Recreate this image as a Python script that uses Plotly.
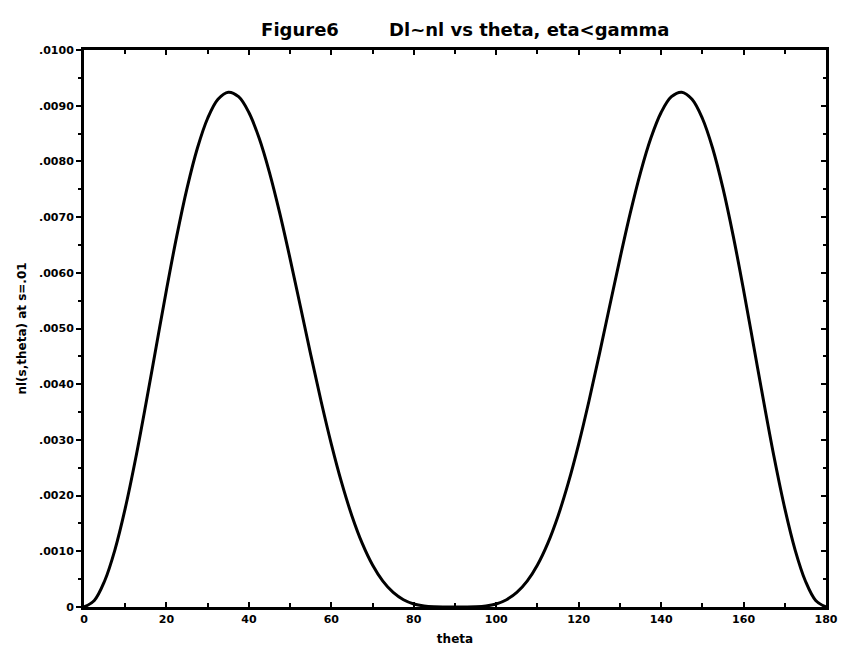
import plotly.graph_objects as go

theta = [0, 2.5, 5, 7.5, 10, 12.5, 15, 17.5, 20, 22.5, 25, 27.5, 30, 32.5, 35, 37.5, 40,
         42.5, 45, 47.5, 50, 52.5, 55, 57.5, 60, 62.5, 65, 67.5, 70, 72.5, 75, 77.5, 80,
         82.5, 85, 87.5, 90, 92.5, 95, 97.5, 100, 102.5, 105, 107.5, 110, 112.5, 115,
         117.5, 120, 122.5, 125, 127.5, 130, 132.5, 135, 137.5, 140, 142.5, 145, 147.5,
         150, 152.5, 155, 157.5, 160, 162.5, 165, 167.5, 170, 172.5, 175, 177.5, 180]
nl = [0.0, 0.000118, 0.000467, 0.001027, 0.001770, 0.002656, 0.003639, 0.004668,
      0.005692, 0.006658, 0.007519, 0.008236, 0.008775, 0.009115, 0.009243, 0.009161,
      0.008878, 0.008415, 0.007800, 0.007066, 0.006251, 0.005394, 0.004532, 0.003699,
      0.002925, 0.002232, 0.001635, 0.001142, 0.000754, 0.000464, 0.000261, 0.000131,
      0.000055, 0.000018, 0.000004, 0.0000002, 0.0,
      0.0000002, 0.000004, 0.000018, 0.000055, 0.000131, 0.000261, 0.000464, 0.000754,
      0.001142, 0.001635, 0.002232, 0.002925, 0.003699, 0.004532, 0.005394, 0.006251,
      0.007066, 0.007800, 0.008415, 0.008878, 0.009161, 0.009243, 0.009115, 0.008775,
      0.008236, 0.007519, 0.006658, 0.005692, 0.004668, 0.003639, 0.002656, 0.001770,
      0.001027, 0.000467, 0.000118, 0.0]

x_ticks = [0, 20, 40, 60, 80, 100, 120, 140, 160, 180]
y_ticks = [0, 0.001, 0.002, 0.003, 0.004, 0.005, 0.006, 0.007, 0.008, 0.009, 0.010]
y_tick_text = ["0", ".0010", ".0020", ".0030", ".0040", ".0050", ".0060", ".0070",
               ".0080", ".0090", ".0100"]

FONT = "DejaVu Sans"

fig = go.Figure()
fig.add_trace(go.Scatter(x=theta, y=nl, mode="lines",
                         line=dict(color="black", width=3, shape="spline", smoothing=1),
                         showlegend=False))
# invisible trace for right axis
fig.add_trace(go.Scatter(x=[0], y=[0], yaxis="y2", mode="markers",
                         marker=dict(opacity=0), showlegend=False, hoverinfo="skip"))

fig.update_layout(
    width=849, height=656,
    margin=dict(l=84, r=23, t=50, b=49),
    paper_bgcolor="white", plot_bgcolor="white",
    title=dict(text="Figure6" + "&nbsp;" * 8 + "Dl~nl vs theta, eta<gamma",
               x=0.548, xanchor="center", y=0.955, yanchor="middle",
               font=dict(family=FONT, size=18, color="black", weight="bold")),
    xaxis=dict(range=[0, 180], tickvals=x_ticks, ticks="inside", ticklen=5, tickwidth=2,
               tickcolor="black", showline=True, linecolor="black", linewidth=3,
               mirror="ticks", showgrid=False, zeroline=False,
               minor=dict(dtick=10, ticks="inside", ticklen=4, tickwidth=2, tickcolor="black"),
               tickfont=dict(family=FONT, size=11, color="black", weight="bold"),
               title=dict(text="theta", standoff=10,
                          font=dict(family=FONT, size=12, color="black", weight="bold"))),
    yaxis=dict(range=[0, 0.01], tickvals=y_ticks, ticktext=y_tick_text, ticks="outside",
               ticklen=5, tickwidth=2, tickcolor="black", showline=True, linecolor="black",
               linewidth=3, showgrid=False, zeroline=False,
               minor=dict(dtick=0.0005, ticks="outside", ticklen=3, tickwidth=2, tickcolor="black"),
               tickfont=dict(family=FONT, size=11, color="black", weight="bold"),
               title=dict(text="nl(s,theta) at s=.01", standoff=10,
                          font=dict(family=FONT, size=12, color="black", weight="bold"))),
    yaxis2=dict(range=[0, 0.01], overlaying="y", side="right", tickvals=y_ticks,
                showticklabels=False, ticks="inside", ticklen=5, tickwidth=2,
                tickcolor="black", showline=True, linecolor="black", linewidth=3,
                showgrid=False, zeroline=False,
                minor=dict(dtick=0.0005, ticks="inside", ticklen=3, tickwidth=2, tickcolor="black")),
)

fig.write_html("out.html")
